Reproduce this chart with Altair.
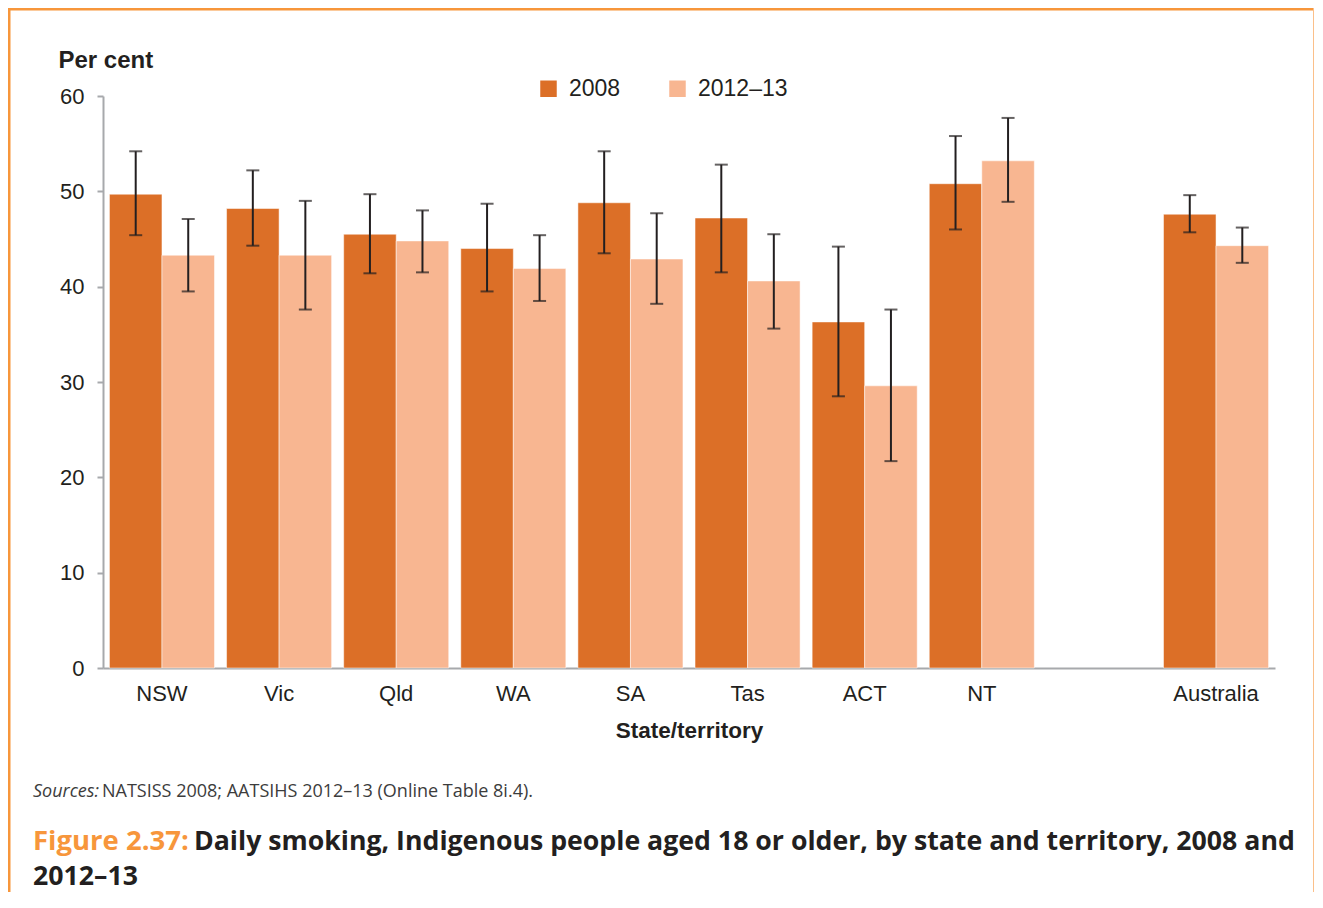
import altair as alt
import pandas as pd

# ---- data ----
states = ["NSW", "Vic", "Qld", "WA", "SA", "Tas", "ACT", "NT", "Australia"]
x_domain = ["NSW", "Vic", "Qld", "WA", "SA", "Tas", "ACT", "NT", " ", "Australia"]
series = ["2008", "2012–13"]
v2008 = [49.7, 48.2, 45.5, 44.0, 48.8, 47.2, 36.3, 50.8, 47.6]
lo2008 = [45.4, 44.3, 41.4, 39.5, 43.5, 41.5, 28.5, 46.0, 45.7]
hi2008 = [54.2, 52.2, 49.7, 48.7, 54.2, 52.8, 44.2, 55.8, 49.6]
v2012 = [43.3, 43.3, 44.8, 41.9, 42.9, 40.6, 29.6, 53.2, 44.3]
lo2012 = [39.5, 37.6, 41.5, 38.5, 38.2, 35.6, 21.7, 48.9, 42.5]
hi2012 = [47.1, 49.0, 48.0, 45.4, 47.7, 45.5, 37.6, 57.7, 46.2]
y_ticks = [0, 10, 20, 30, 40, 50, 60]

sources_label = ["Sources:"]
sources_text = ["NATSISS 2008; AATSIHS 2012–13 (Online Table 8i.4)."]
fig_label = ["Figure 2.37:"]
fig_line1 = ["Daily smoking, Indigenous people aged 18 or older, by state and territory, 2008 and"]
fig_line2 = ["2012–13"]

rows = []
for i, s in enumerate(states):
    rows.append({"state": s, "series": series[0], "value": v2008[i], "lo": lo2008[i], "hi": hi2008[i]})
    rows.append({"state": s, "series": series[1], "value": v2012[i], "lo": lo2012[i], "hi": hi2012[i]})
df = pd.DataFrame(rows)

W, H = 1172, 572
C2008, C2012 = "#DC6F27", "#F8B691"
ORANGE = "#F7963B"
DARK = "#231F20"
GREY = "#A7A9AC"
FONT = "Liberation Sans"

x_enc = alt.X(
    "state:N",
    sort=x_domain,
    scale=alt.Scale(domain=x_domain, paddingInner=0.103, paddingOuter=0.055),
    axis=alt.Axis(
        title="State/territory", labelAngle=0, ticks=False, domainColor=GREY, domainWidth=2,
        labelFont=FONT, labelFontSize=22, labelColor=DARK, labelPadding=15,
        titleFont=FONT, titleFontSize=22.5, titleFontWeight="bold", titleColor=DARK, titlePadding=15,
    ),
)
xo_enc = alt.XOffset("series:N", sort=series, scale=alt.Scale(domain=series, paddingInner=0, paddingOuter=0))
y_scale = alt.Scale(domain=[0, 60], nice=False)

bars = alt.Chart(df).mark_bar(stroke="white", strokeWidth=0.5).encode(
    x=x_enc,
    xOffset=xo_enc,
    y=alt.Y(
        "value:Q", scale=y_scale,
        axis=alt.Axis(
            values=y_ticks, grid=False, domainColor=GREY, domainWidth=2, tickColor=GREY, tickWidth=2,
            tickSize=6, labelPadding=13, labelFont=FONT, labelFontSize=22, labelColor=DARK,
            title="Per cent", titleAngle=0, titleAlign="left", titleBaseline="alphabetic",
            titleX=-45, titleY=-29, titleFont=FONT, titleFontSize=24, titleFontWeight="bold", titleColor=DARK,
        ),
    ),
    color=alt.Color(
        "series:N", sort=series,
        scale=alt.Scale(domain=series, range=[C2008, C2012]),
        legend=alt.Legend(
            title=None, orient="none", legendX=434, legendY=-19, direction="horizontal",
            symbolType="square", symbolSize=272, symbolStrokeWidth=0, labelFont=FONT, labelFontSize=23,
            labelColor=DARK, labelOffset=9, columnPadding=45, padding=0,
        ),
    ),
)

err = alt.Chart(df).mark_rule(color=DARK, strokeWidth=2).encode(
    x="state:N", xOffset="series:N", y="lo:Q", y2="hi:Q"
)
cap_lo = alt.Chart(df).mark_tick(color=DARK, thickness=2, size=13, orient="horizontal").encode(
    x="state:N", xOffset="series:N", y="lo:Q"
)
cap_hi = alt.Chart(df).mark_tick(color=DARK, thickness=2, size=13, orient="horizontal").encode(
    x="state:N", xOffset="series:N", y="hi:Q"
)

one = pd.DataFrame({"k": [0]})
frame_top = alt.Chart(one).mark_rect(color=ORANGE).encode(
    x=alt.value(-95), x2=alt.value(1211), y=alt.value(-88), y2=alt.value(-85.5)
)
frame_left = alt.Chart(one).mark_rect(color=ORANGE).encode(
    x=alt.value(-95), x2=alt.value(-92.5), y=alt.value(-88), y2=alt.value(796)
)
frame_right = alt.Chart(one).mark_rect(color="#FBC08A").encode(
    x=alt.value(1210), x2=alt.value(1211), y=alt.value(-88), y2=alt.value(796)
)


def txt(values, x, y, size, color, weight="normal", style="normal"):
    return alt.Chart(pd.DataFrame({"t": values})).mark_text(
        align="left", baseline="alphabetic", font="Open Sans", fontSize=size,
        fontWeight=weight, fontStyle=style, color=color,
    ).encode(text="t:N", x=alt.value(x), y=alt.value(y))


t_src1 = txt(sources_label, -70, 701, 18, "#3C3C3C", style="italic")
t_src2 = txt(sources_text, -1, 701, 18, "#3C3C3C")
t_fig1 = txt(fig_label, -70, 754, 27.5, ORANGE, weight="bold")
t_fig2 = txt(fig_line1, 91, 754, 26.7, DARK, weight="bold")
t_fig3 = txt(fig_line2, -70, 789, 26.7, DARK, weight="bold")

chart = alt.layer(
    bars, err, cap_lo, cap_hi, frame_top, frame_left, frame_right,
    t_src1, t_src2, t_fig1, t_fig2, t_fig3,
).properties(width=W, height=H, padding=0, background="white").configure_view(stroke=None)

chart.save("out.html", embed_options={"renderer": "svg", "actions": False})
